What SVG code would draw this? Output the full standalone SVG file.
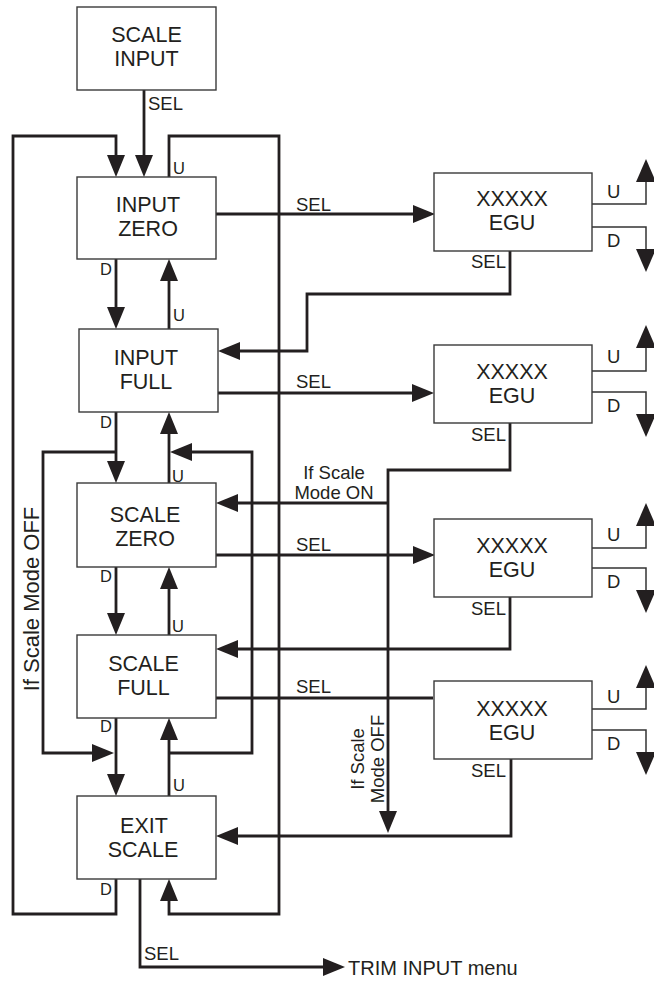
<svg xmlns="http://www.w3.org/2000/svg" width="654" height="982" viewBox="0 0 654 982">
<style>
text{font-family:"Liberation Sans",Arial,sans-serif;fill:#231f20}
.bt{font-size:21.5px;text-anchor:middle}
.lb{font-size:18.5px}
.ud{font-size:16.5px}
.box{fill:#fff;stroke:#3a3a3a;stroke-width:1.4}
.c{fill:none;stroke:#231f20;stroke-width:2.8;marker-end:url(#a)}
.n{fill:none;stroke:#231f20;stroke-width:2.8}
.t{fill:none;stroke:#333;stroke-width:1.5;marker-end:url(#s)}
</style>
<defs>
<marker id="a" viewBox="0 0 22 18" refX="17" refY="9" markerWidth="22" markerHeight="18" markerUnits="userSpaceOnUse" orient="auto"><path d="M0,0 L22,9 L0,18 z" fill="#231f20"/></marker>
<marker id="s" viewBox="0 0 23 20" refX="20" refY="10" markerWidth="23" markerHeight="20" markerUnits="userSpaceOnUse" orient="auto"><path d="M0,0 L23,10 L0,20 z" fill="#231f20"/></marker>
</defs>

<g id="connectors">
<path class="c" d="M144,90 V172"/>
<path class="c" d="M116,879 V914 H13 V136 H116 V172"/>
<path class="c" d="M169,177 V136 H279 V914 H169 V884"/>
<path class="c" d="M116,259 V324"/>
<path class="c" d="M169,329 V264"/>
<path class="c" d="M116,412 V478"/>
<path class="c" d="M169,483 V417"/>
<path class="c" d="M116,567 V630"/>
<path class="c" d="M169,635 V572"/>
<path class="c" d="M116,718 V791"/>
<path class="c" d="M169,796 V723"/>
<path class="c" d="M116,452 H43 V753 H109"/>
<path class="c" d="M169,753 H252 V452 H175"/>
<path class="c" d="M216,214 H430"/>
<path class="c" d="M510,251 V294 H307 V351 H223"/>
<path class="c" d="M218,393 H429"/>
<path class="c" d="M510,423 V470 H388 V828"/>
<path class="c" d="M388,503 H221"/>
<path class="c" d="M216,555 H430"/>
<path class="c" d="M510,597 V649 H221"/>
<path class="n" d="M216,698 H433"/>
<path class="c" d="M511,759 V836 H221"/>
<path class="c" d="M140,879 V967 H340"/>
<path class="t" d="M592,204 H646 V162"/>
<path class="t" d="M592,227 H646 V269"/>
<path class="t" d="M592,371 H646 V328"/>
<path class="t" d="M592,392 H646 V434"/>
<path class="t" d="M592,548 H646 V506"/>
<path class="t" d="M592,568 H646 V610"/>
<path class="t" d="M592,709 H646 V668"/>
<path class="t" d="M592,730 H646 V772"/>
</g>

<g id="scale-input"><rect class="box" x="77" y="7" width="139" height="83"/><text class="bt" x="146.5" y="42">SCALE</text><text class="bt" x="146.5" y="66">INPUT</text></g>
<g id="input-zero"><rect class="box" x="77" y="177" width="139" height="82"/><text class="bt" x="148" y="212">INPUT</text><text class="bt" x="148" y="236">ZERO</text></g>
<g id="input-full"><rect class="box" x="79" y="329" width="139" height="83"/><text class="bt" x="146" y="365">INPUT</text><text class="bt" x="146" y="389">FULL</text></g>
<g id="scale-zero"><rect class="box" x="77" y="483" width="139" height="84"/><text class="bt" x="145" y="522">SCALE</text><text class="bt" x="145" y="546">ZERO</text></g>
<g id="scale-full"><rect class="box" x="77" y="635" width="139" height="83"/><text class="bt" x="143.5" y="671">SCALE</text><text class="bt" x="143.5" y="695">FULL</text></g>
<g id="exit-scale"><rect class="box" x="77" y="796" width="139" height="83"/><text class="bt" x="144" y="833">EXIT</text><text class="bt" x="143" y="857">SCALE</text></g>

<g id="egu-1"><rect class="box" x="434" y="173" width="158" height="78"/><text class="bt" x="512" y="206">XXXXX</text><text class="bt" x="512" y="230">EGU</text></g>
<g id="egu-2"><rect class="box" x="434" y="345" width="158" height="78"/><text class="bt" x="512" y="379">XXXXX</text><text class="bt" x="512" y="403">EGU</text></g>
<g id="egu-3"><rect class="box" x="434" y="519" width="158" height="78"/><text class="bt" x="512" y="553">XXXXX</text><text class="bt" x="512" y="577">EGU</text></g>
<g id="egu-4"><rect class="box" x="434" y="681" width="158" height="78"/><text class="bt" x="512" y="716">XXXXX</text><text class="bt" x="512" y="740">EGU</text></g>

<g id="labels">
<text class="lb" x="148" y="110">SEL</text>
<text class="lb" x="296" y="211">SEL</text>
<text class="lb" x="506" y="268" text-anchor="end">SEL</text>
<text class="lb" x="296" y="388">SEL</text>
<text class="lb" x="506" y="441" text-anchor="end">SEL</text>
<text class="lb" x="296" y="551">SEL</text>
<text class="lb" x="506" y="615" text-anchor="end">SEL</text>
<text class="lb" x="296" y="693">SEL</text>
<text class="lb" x="506" y="777" text-anchor="end">SEL</text>
<text class="lb" x="144" y="960">SEL</text>
<text class="ud" x="173" y="174">U</text>
<text class="ud" x="100" y="275">D</text>
<text class="ud" x="173" y="321">U</text>
<text class="ud" x="100" y="428">D</text>
<text class="ud" x="172" y="482">U</text>
<text class="ud" x="100" y="582">D</text>
<text class="ud" x="172" y="632">U</text>
<text class="ud" x="100" y="732">D</text>
<text class="ud" x="173" y="791">U</text>
<text class="ud" x="100" y="895">D</text>
<text class="lb" x="607" y="198">U</text>
<text class="lb" x="607" y="247">D</text>
<text class="lb" x="607" y="363">U</text>
<text class="lb" x="607" y="412">D</text>
<text class="lb" x="607" y="541">U</text>
<text class="lb" x="607" y="588">D</text>
<text class="lb" x="607" y="703">U</text>
<text class="lb" x="607" y="750">D</text>
<text class="lb" x="334" y="479" text-anchor="middle">If Scale</text>
<text class="lb" x="334" y="499" text-anchor="middle">Mode ON</text>
<text class="lb" text-anchor="middle" transform="translate(364,759) rotate(-90)">If Scale</text>
<text class="lb" text-anchor="middle" transform="translate(384,759) rotate(-90)">Mode OFF</text>
<text style="font-size:22px" text-anchor="middle" transform="translate(39,599) rotate(-90)">If Scale Mode OFF</text>
<text style="font-size:20px" x="348" y="975">TRIM INPUT menu</text>
</g>
</svg>
